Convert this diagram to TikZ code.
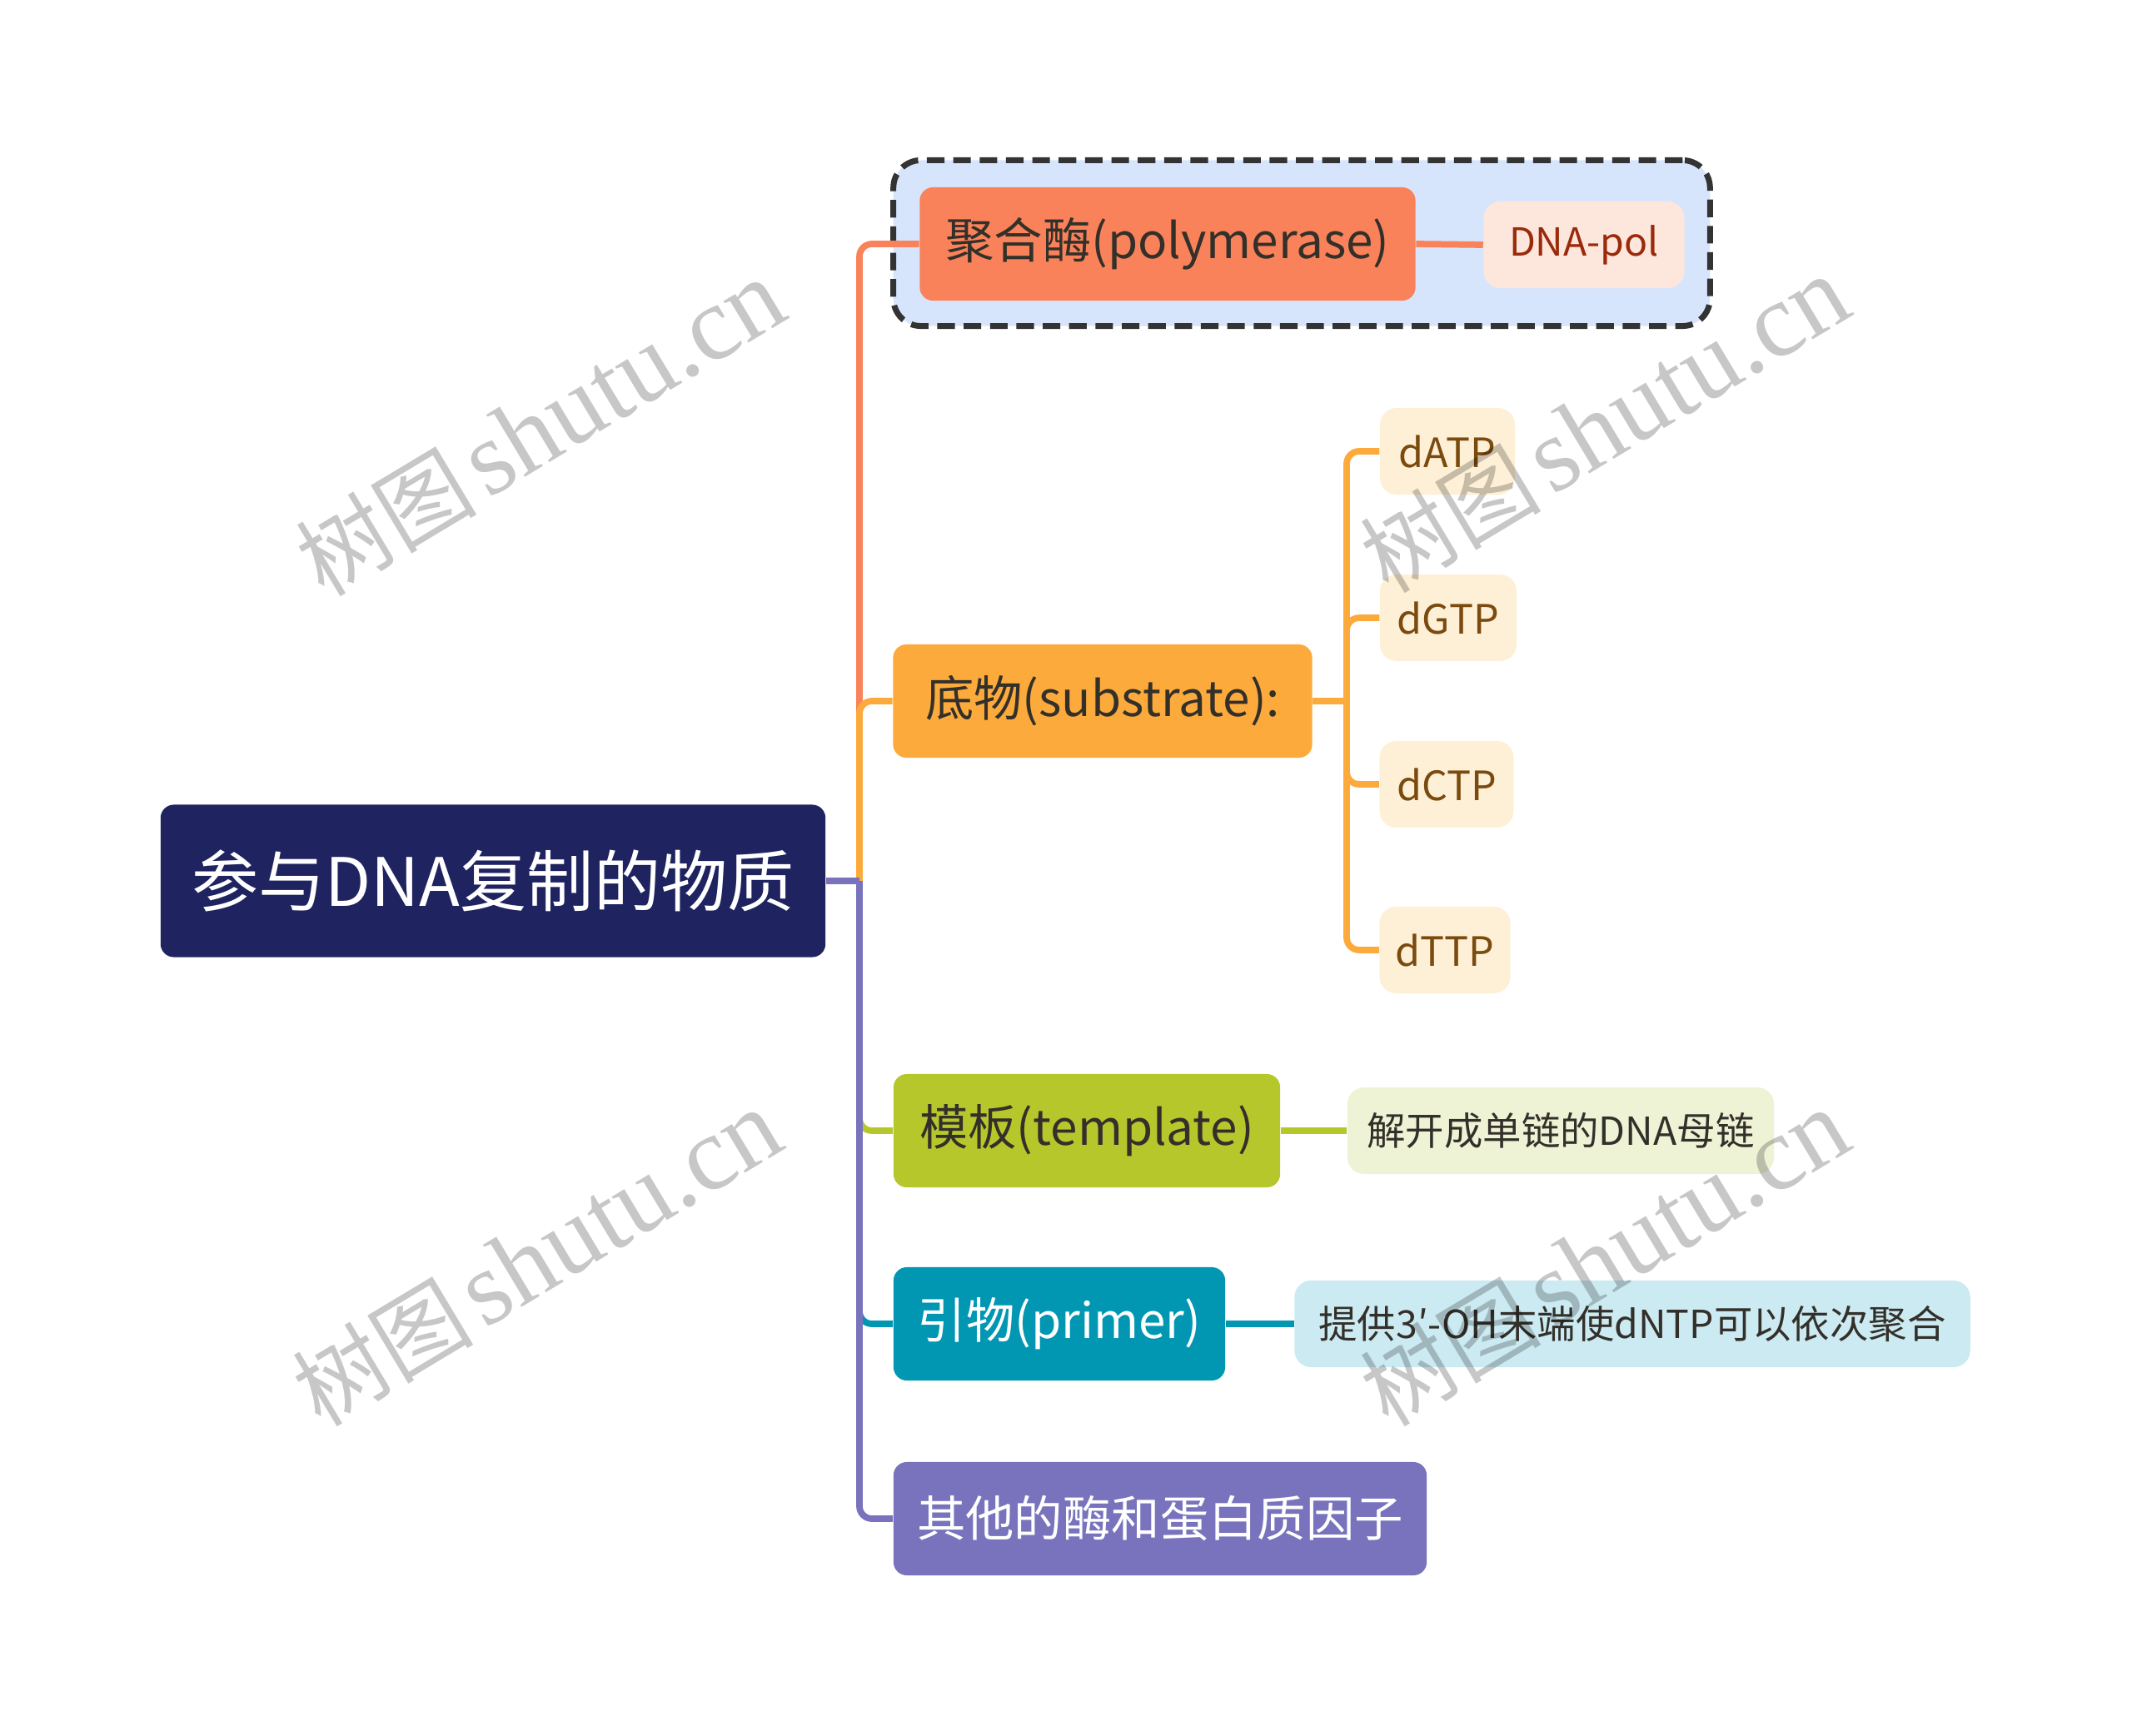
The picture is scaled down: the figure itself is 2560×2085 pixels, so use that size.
\documentclass[tikz,border=0pt]{standalone}
\usepackage{fontspec}
\usepackage{tikz}
\usetikzlibrary{shapes,arrows,positioning}
\newfontfamily\cjk{Noto Sans CJK SC}
\newfontfamily\wmserif{Liberation Serif}
\definecolor{rootblue}{HTML}{1F2461}
\definecolor{polyred}{HTML}{F9825A}
\definecolor{polyleaf}{HTML}{FDE6DC}
\definecolor{polytext}{HTML}{9A2A0A}
\definecolor{frameblue}{HTML}{D7E5FC}
\definecolor{frameline}{HTML}{333333}
\definecolor{subor}{HTML}{FCAA3C}
\definecolor{subleaf}{HTML}{FEF0D7}
\definecolor{subtext}{HTML}{7A4A0E}
\definecolor{tmplgreen}{HTML}{B6C72C}
\definecolor{tmplleaf}{HTML}{EFF3D6}
\definecolor{primteal}{HTML}{0197B3}
\definecolor{primleaf}{HTML}{CCEAF2}
\definecolor{othpurple}{HTML}{7873BC}
\definecolor{darktext}{HTML}{33302A}

\begin{document}
\begin{tikzpicture}[
    x=0.01cm, y=-0.01cm,
    rootnode/.style={rounded corners=0.16cm, inner sep=0pt, fill=rootblue, text=white,
        minimum width=7.98cm, minimum height=1.83cm, font=\cjk\fontsize{22.8}{26}\selectfont},
    branchnode/.style={rounded corners=0.16cm, inner sep=0pt, minimum height=1.36cm,
        text=darktext, font=\cjk\fontsize{16.6}{20}\selectfont},
    leafnode/.style={rounded corners=0.2cm, inner sep=0pt, minimum height=1.04cm,
        text=darktext, font=\cjk\fontsize{13.2}{16}\selectfont},
    ntpnode/.style={leafnode, fill=subleaf, text=subtext, font=\cjk\fontsize{13.8}{16}\selectfont},
    link/.style={line width=2.2pt, rounded corners=0.15cm},
    wmark/.style={text=black, opacity=0.22, rotate=31, inner sep=0pt}
]
\useasboundingbox (0,0) rectangle (2560,2085);

% dashed frame round the polymerase branch
\node[draw=frameline, fill=frameblue, line width=2pt, dash pattern=on 6pt off 3pt,
    rounded corners=0.33cm, minimum width=9.8cm, minimum height=1.99cm] (frame) at (1563,292) {};

% nodes
\node[rootnode] (root) at (592,1058) {参与DNA复制的物质};
\node[branchnode, fill=polyred, minimum width=5.95cm] (poly) at (1402,293) {聚合酶(polymerase)};
\node[leafnode, fill=polyleaf, text=polytext, minimum width=2.41cm] (pol) at (1902,294) {DNA-pol};
\node[branchnode, fill=subor, minimum width=5.03cm] (sub) at (1324,842) {底物(substrate):};
\node[ntpnode, minimum width=1.62cm] (datp) at (1738,542) {dATP};
\node[ntpnode, minimum width=1.64cm] (dgtp) at (1739,742) {dGTP};
\node[ntpnode, minimum width=1.61cm] (dctp) at (1737,942) {dCTP};
\node[ntpnode, minimum width=1.57cm] (dttp) at (1735,1141) {dTTP};
\node[branchnode, fill=tmplgreen, minimum width=4.64cm] (tmpl) at (1305,1358) {模板(template)};
\node[leafnode, fill=tmplleaf, minimum width=5.12cm] (strand) at (1874,1358) {解开成单链的DNA母链};
\node[branchnode, fill=primteal, text=white, minimum width=3.98cm] (prim) at (1272,1590) {引物(primer)};
\node[leafnode, fill=primleaf, minimum width=8.11cm] (ohend) at (1960,1590) {提供3′-OH末端使dNTP可以依次聚合};
\node[branchnode, fill=othpurple, text=white, minimum width=6.40cm] (other) at (1393,1824) {其他的酶和蛋白质因子};

% connectors
\coordinate (trunk) at (1032,1058);
\coordinate (subtrunk) at (1617,842);
\draw[link, polyred] (trunk) |- (poly.west);
\draw[link, subor] (trunk) |- (sub.west);
\draw[link, tmplgreen] (trunk) |- (tmpl.west);
\draw[link, primteal] (trunk) |- (prim.west);
\draw[link, othpurple] (trunk) |- (other.west);
\draw[link, othpurple] (root.east) -- (trunk);

\draw[link, polyred] (poly.east) -- (pol.west);
\draw[link, subor] (sub.east) -- (subtrunk);
\foreach \ntp in {datp,dgtp,dctp,dttp}
    \draw[link, subor] (subtrunk) |- (\ntp.west);
\draw[link, tmplgreen] (tmpl.east) -- (strand.west);
\draw[link, primteal] (prim.east) -- (ohend.west);

% watermarks
\foreach \wx/\wy [count=\i] in {649/514, 1927/510, 645/1511, 1927/1511}
    \node[wmark] (wm\i) at (\wx,\wy) {{\cjk\fontsize{31}{34}\selectfont 树图} {\wmserif\fontsize{36}{38}\selectfont shutu.cn}};
\end{tikzpicture}
\end{document}
